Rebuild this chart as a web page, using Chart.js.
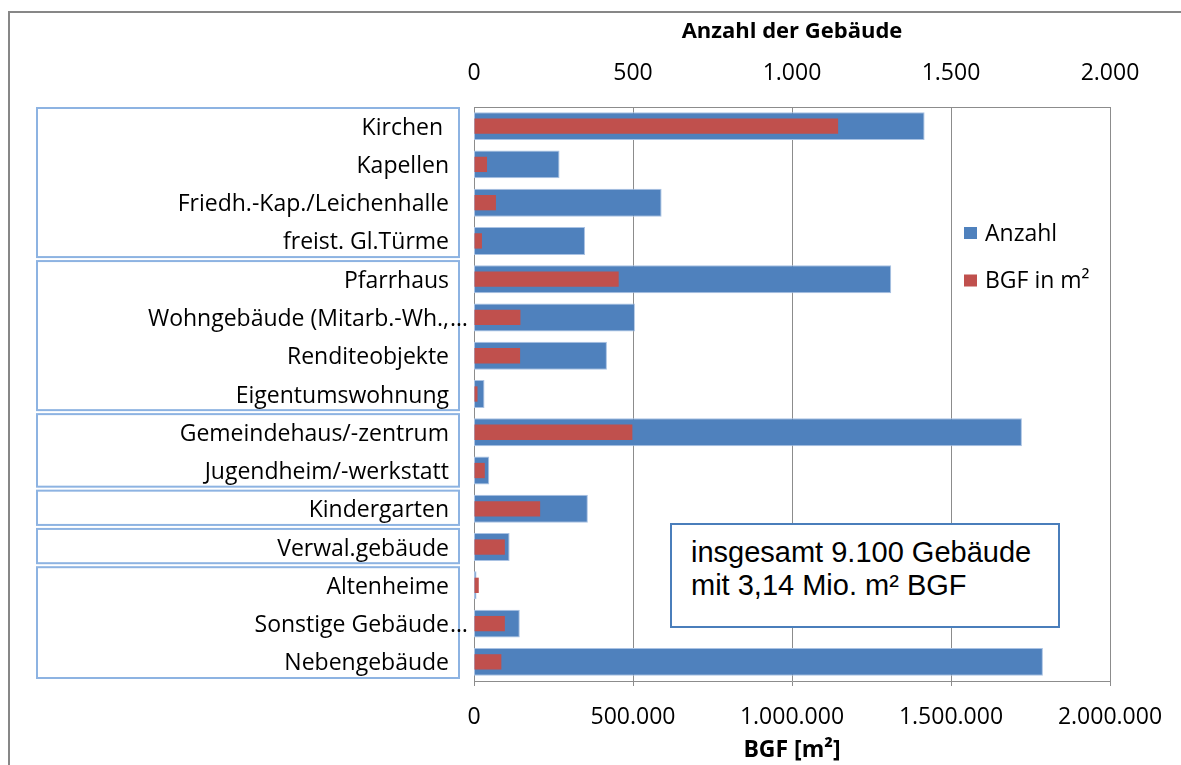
<!DOCTYPE html>
<html>
<head>
<meta charset="utf-8">
<script src="https://cdn.jsdelivr.net/npm/chart.js@4/dist/chart.umd.min.js"></script>
<style>
  body { margin: 0; background: #fff; }
  #wrap { position: relative; width: 1181px; height: 765px; overflow: hidden; background: #fff; }
  #frame { position: absolute; left: 8px; top: 11px; width: 1300px; height: 900px;
           border-left: 2px solid #878787; border-top: 2px solid #878787; pointer-events: none; }
  #note { position: absolute; left: 670px; top: 523px; width: 390px; height: 105px; box-sizing: border-box;
          border: 2px solid #4a7ebb; background: #fff; color: #000;
          font-family: "Liberation Sans", Arial, sans-serif; font-size: 29px; line-height: 33px;
          padding: 11px 0 0 19px; white-space: nowrap; }
  canvas { position: absolute; left: 0; top: 0; }
</style>
</head>
<body>
<div id="wrap">
  <canvas id="c" width="1181" height="765"></canvas>
  <div id="frame"></div>
  <div id="note">insgesamt 9.100 Gebäude<br>mit 3,14 Mio. m² BGF</div>
</div>
<script>
// ---- Data ----
const categories = [
  "Kirchen ", "Kapellen", "Friedh.-Kap./Leichenhalle", "freist. Gl.Türme",
  "Pfarrhaus", "Wohngebäude (Mitarb.-Wh.,…", "Renditeobjekte", "Eigentumswohnung",
  "Gemeindehaus/-zentrum", "Jugendheim/-werkstatt", "Kindergarten", "Verwal.gebäude",
  "Altenheime", "Sonstige Gebäude…", "Nebengebäude"
];
const anzahl = [1417, 269, 590, 349, 1312, 506, 418, 33, 1723, 48, 358, 112, 8, 144, 1789];
const bgf = [1145000, 41000, 69000, 25000, 455000, 146000, 145000, 11000, 498000, 34000, 208000, 97000, 15000, 97000, 86000];
const topTicks = [0, 500, 1000, 1500, 2000];
const bottomTicks = [0, 500000, 1000000, 1500000, 2000000];
const groups = [[0, 3], [4, 7], [8, 9], [10, 10], [11, 11], [12, 14]];
const seriesNames = ["Anzahl", "BGF in m²"];
const axisTitles = { top: "Anzahl der Gebäude", bottom: "BGF [m²]" };

const BLUE = "#4F81BD", RED = "#C0504D", GRID = "#8c8c8c", BOX = "#8db3e2";
const FONT = "'Open Sans', Lato, sans-serif";

function fmt(v) { return String(v).replace(/\B(?=(\d{3})+(?!\d))/g, "."); }

const decorPlugin = {
  id: "decor",
  afterDraw(chart) {
    const ctx = chart.ctx, y = chart.scales.y, area = chart.chartArea;
    const band = y.getPixelForValue(1) - y.getPixelForValue(0);
    ctx.save();
    // group boxes
    ctx.strokeStyle = BOX; ctx.lineWidth = 2;
    groups.forEach(([s, e]) => {
      const t = y.getPixelForValue(s) - band / 2 + 1;
      const b = y.getPixelForValue(e) + band / 2 - 3;
      ctx.strokeRect(37, t, area.left - 15 - 37, b - t);
    });
    // category labels
    ctx.font = "23px " + FONT;
    ctx.fillStyle = "#000";
    ctx.textBaseline = "middle";
    const lx = area.left - 25;
    categories.forEach((c, i) => {
      const py = y.getPixelForValue(i) + 2;
      if (c.endsWith("…")) {
        ctx.textAlign = "right"; ctx.fillText(c.slice(0, -1), lx, py);
        ctx.textAlign = "left"; ctx.fillText("…", lx + 1, py);
      } else {
        ctx.textAlign = "right"; ctx.fillText(c, lx, py);
      }
    });
    // legend
    const lgX = 964, lgY = 233, lgStep = 47.5;
    chart.data.datasets.forEach((ds, i) => {
      const cy = lgY + i * lgStep;
      ctx.fillStyle = ds.backgroundColor;
      ctx.fillRect(lgX, cy - 6, 13, 12);
      ctx.fillStyle = "#000";
      ctx.textAlign = "left";
      ctx.fillText(ds.label, lgX + 21, cy + 1);
    });
    ctx.restore();
  }
};

new Chart(document.getElementById("c"), {
  type: "bar",
  data: {
    labels: categories,
    datasets: [
      { label: seriesNames[0], data: anzahl, xAxisID: "xTop", backgroundColor: BLUE,
        borderColor: "#a9c2e3", borderWidth: 1, borderSkipped: false,
        grouped: false, barPercentage: 0.73, categoryPercentage: 1, order: 2 },
      { label: seriesNames[1], data: bgf, xAxisID: "xBottom", backgroundColor: RED,
        borderWidth: 0, grouped: false, barPercentage: 0.4, categoryPercentage: 1, order: 1 }
    ]
  },
  options: {
    indexAxis: "y",
    responsive: false,
    animation: false,
    layout: { padding: { left: 0, right: 71, top: 0, bottom: 0 } },
    plugins: { legend: { display: false }, tooltip: { enabled: false } },
    scales: {
      y: {
        type: "category",
        ticks: { display: false },
        grid: { display: false, drawTicks: false },
        border: { display: true, color: GRID, width: 1 },
        afterFit(s) { s.width = 474; }
      },
      xTop: {
        type: "linear", position: "top", min: 0, max: 2000,
        afterBuildTicks(s) { s.ticks = topTicks.map(v => ({ value: v })); },
        ticks: { callback: v => fmt(v), font: { family: FONT, size: 23 }, color: "#000", padding: 20, maxRotation: 0 },
        grid: { display: false, drawTicks: false },
        border: { display: true, color: GRID, width: 1 },
        title: { display: true, text: axisTitles.top, font: { family: FONT, size: 22, weight: "bold" }, color: "#000", padding: { top: 19, bottom: 0 } },
        afterFit(s) { s.height = 107; }
      },
      xBottom: {
        type: "linear", position: "bottom", min: 0, max: 2000000,
        afterBuildTicks(s) { s.ticks = bottomTicks.map(v => ({ value: v })); },
        ticks: { callback: v => fmt(v), font: { family: FONT, size: 23 }, color: "#000", padding: 18, maxRotation: 0 },
        grid: { display: true, color: GRID, lineWidth: 1, tickLength: 5, drawOnChartArea: true },
        border: { display: true, color: GRID, width: 1 },
        title: { display: true, text: axisTitles.bottom, font: { family: FONT, size: 23, weight: "bold" }, color: "#000", padding: { top: 0, bottom: 1 } },
        afterFit(s) { s.height = 84; }
      }
    }
  },
  plugins: [decorPlugin]
});
</script>
</body>
</html>
